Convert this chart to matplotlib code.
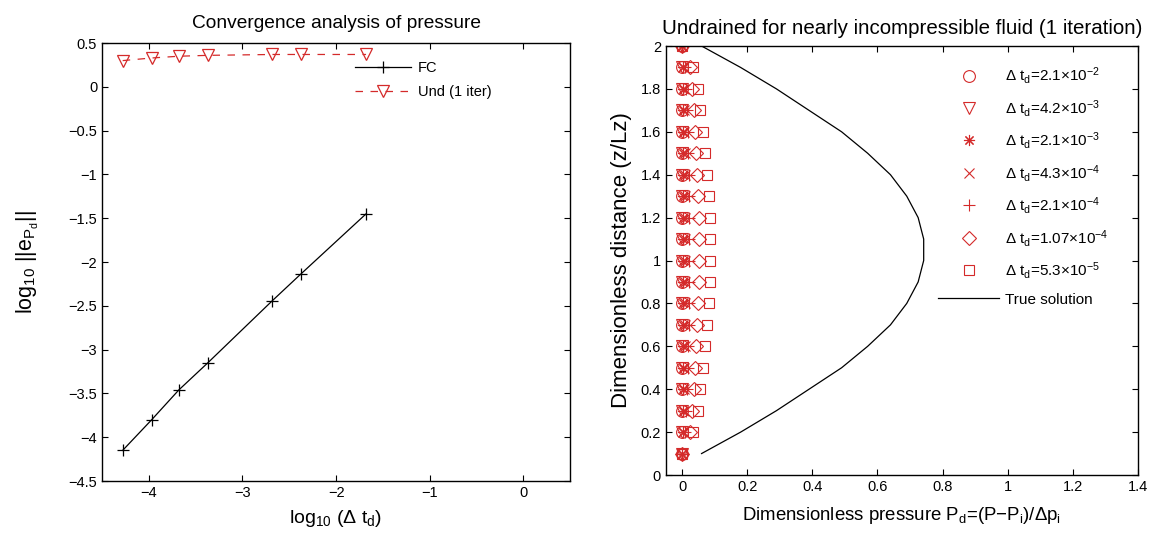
import matplotlib
matplotlib.use("Agg")
import matplotlib.pyplot as plt

plt.rcParams["font.family"] = ["Liberation Sans", "DejaVu Sans"]
plt.rcParams["mathtext.fontset"] = "custom"
plt.rcParams["mathtext.rm"] = "Liberation Sans"
plt.rcParams["mathtext.it"] = "Liberation Sans"
plt.rcParams["mathtext.bf"] = "Liberation Sans:bold"

RED = "#d42a2a"
MINUS = "\u2212"

# ---- left panel: convergence ----
log_dt = [-4.28, -3.97, -3.68, -3.37, -2.68, -2.38, -1.68]
err_fc = [-4.15, -3.80, -3.46, -3.15, -2.44, -2.14, -1.45]
err_und = [0.30, 0.33, 0.35, 0.36, 0.37, 0.37, 0.37]

# ---- right panel: pressure profiles ----
z = [0.1, 0.2, 0.3, 0.4, 0.5, 0.6, 0.7, 0.8, 0.9, 1.0,
     1.1, 1.2, 1.3, 1.4, 1.5, 1.6, 1.7, 1.8, 1.9, 2.0]
p_true = [0.06, 0.18, 0.29, 0.39, 0.49, 0.57, 0.64, 0.69, 0.725, 0.742,
          0.742, 0.725, 0.69, 0.64, 0.57, 0.49, 0.39, 0.29, 0.18, 0.06]
p_dt1 = [0.0] * 20
p_dt2 = [0.0, 0.001, 0.001, 0.001, 0.001, 0.001, 0.001, 0.001, 0.001, 0.001,
         0.001, 0.001, 0.001, 0.001, 0.001, 0.001, 0.001, 0.001, 0.001, 0.0]
p_dt3 = [0.0, 0.002, 0.002, 0.003, 0.003, 0.003, 0.004, 0.004, 0.004, 0.004,
         0.004, 0.004, 0.004, 0.004, 0.003, 0.003, 0.003, 0.002, 0.002, 0.0]
p_dt4 = [0.0, 0.004, 0.005, 0.006, 0.007, 0.008, 0.008, 0.009, 0.009, 0.009,
         0.009, 0.009, 0.009, 0.008, 0.008, 0.007, 0.006, 0.005, 0.004, 0.0]
p_dt5 = [0.0, 0.010, 0.013, 0.015, 0.017, 0.019, 0.020, 0.021, 0.022, 0.022,
         0.022, 0.022, 0.021, 0.020, 0.019, 0.017, 0.015, 0.013, 0.010, 0.0]
p_dt6 = [0.0, 0.025, 0.032, 0.037, 0.040, 0.044, 0.046, 0.049, 0.051, 0.053,
         0.053, 0.051, 0.049, 0.046, 0.044, 0.040, 0.037, 0.032, 0.025, 0.0]
p_dt7 = [0.0, 0.035, 0.048, 0.055, 0.063, 0.072, 0.078, 0.082, 0.085, 0.087,
         0.087, 0.085, 0.082, 0.078, 0.072, 0.063, 0.055, 0.048, 0.035, 0.0]

profiles = [p_dt1, p_dt2, p_dt3, p_dt4, p_dt5, p_dt6, p_dt7]
markers = ["o", "v", (8, 2, 0), "x", "+", "D", "s"]
sizes = [8.5, 8.5, 8, 6.5, 8.5, 7.5, 7.5]
dt_text = ["2.1", "4.2", "2.1", "4.3", "2.1", "1.07", "5.3"]
dt_exp = ["2", "3", "3", "4", "4", "4", "5"]


def style_axes(ax):
    ax.tick_params(direction="in", top=True, right=True, labelsize=10.5,
                   length=4, width=0.8)
    for s in ax.spines.values():
        s.set_linewidth(1.0)


fig = plt.figure(figsize=(11.51, 5.42), dpi=100)

# left
ax1 = fig.add_axes([0.0887, 0.1125, 0.4066, 0.808])
ax1.plot(log_dt, err_fc, color="black", lw=0.9, marker="+", ms=9,
         mew=0.9, label="FC")
ax1.plot(log_dt, err_und, color=RED, lw=0.9, ls=(0, (6, 6)), marker="v",
         ms=9, mfc="none", mec=RED, mew=0.9, label="Und (1 iter)")
ax1.set_xlim(-4.5, 0.5)
ax1.set_ylim(-4.5, 0.5)
ax1.set_xticks([-4, -3, -2, -1, 0])
yt = [0.5, 0, -0.5, -1, -1.5, -2, -2.5, -3, -3.5, -4, -4.5]
ax1.set_yticks(yt)
ax1.set_yticklabels([("%g" % v).replace("-", MINUS) for v in yt])
ax1.set_xticklabels([MINUS + "4", MINUS + "3", MINUS + "2", MINUS + "1", "0"])
ax1.set_title("Convergence analysis of pressure", fontsize=13.8, pad=11)
ax1.set_xlabel(r"log$_{10}$ ($\Delta$ t$_\mathrm{d}$)", fontsize=14, labelpad=6)
ax1.set_ylabel(r"log$_{10}$ ||e$_{\mathrm{P}_\mathrm{d}}$||", fontsize=15.5,
               labelpad=20)
style_axes(ax1)
ax1.legend(loc="upper left", frameon=False, fontsize=10.5,
           handlelength=3.8, handletextpad=0.5, borderpad=0, borderaxespad=0,
           bbox_to_anchor=(0.541, 0.96), labelspacing=0.7)

# right
ax2 = fig.add_axes([0.5784, 0.1236, 0.4103, 0.7915])
for p, m, s, a, e in zip(profiles, markers, sizes, dt_text, dt_exp):
    lab = r"$\Delta$ t$_\mathrm{d}$=" + a + r"$\times$10$^{" + MINUS + e + "}$"
    ax2.plot(p, z, ls="none", marker=m, ms=s, mfc="none", mec=RED,
             mew=0.8, color=RED, label=lab)
ax2.plot(p_true, z, color="black", lw=0.9, label="True solution")
ax2.set_xlim(-0.05, 1.4)
ax2.set_ylim(0, 2)
ax2.set_xticks([0, 0.2, 0.4, 0.6, 0.8, 1.0, 1.2, 1.4])
ax2.set_xticklabels(["0", "0.2", "0.4", "0.6", "0.8", "1", "1.2", "1.4"])
ax2.set_yticks([0, 0.2, 0.4, 0.6, 0.8, 1.0, 1.2, 1.4, 1.6, 1.8, 2.0])
ax2.set_yticklabels(["0", "0.2", "0.4", "0.6", "0.8", "1", "1.2", "1.4",
                     "1.6", "1.8", "2"])
ax2.set_title("Undrained for nearly incompressible fluid (1 iteration)",
              fontsize=14.8, pad=9)
ax2.set_xlabel(r"Dimensionless pressure P$_\mathrm{d}$=(P" + MINUS
               + r"P$_\mathrm{i}$)/$\Delta$p$_\mathrm{i}$",
               fontsize=13.4, labelpad=8)
ax2.set_ylabel("Dimensionless distance (z/Lz)", fontsize=16, labelpad=6)
style_axes(ax2)
ax2.legend(loc="upper left", frameon=False, fontsize=11,
           handlelength=4.0, handletextpad=0.35, borderpad=0, borderaxespad=0,
           bbox_to_anchor=(0.577, 0.955), labelspacing=0.75)

fig.savefig("out.png", dpi=100, facecolor="white")
